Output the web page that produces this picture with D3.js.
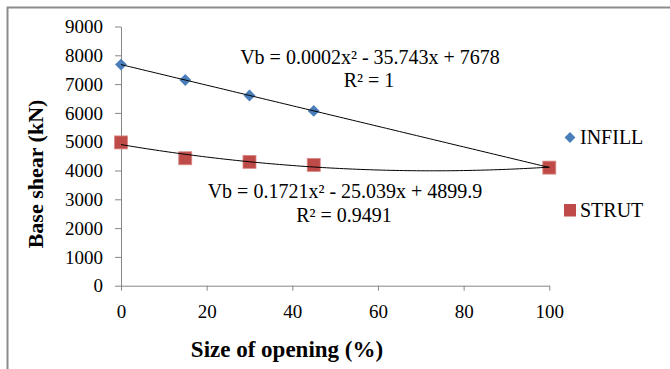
<!DOCTYPE html>
<html>
<head>
<meta charset="utf-8">
<script src="https://cdn.jsdelivr.net/npm/d3@7"></script>
</head>
<body style="margin:0">
<svg id="chart" width="670" height="369"></svg>
<script>
// Opening size (%) and base shear (kN) for the two wall models
const openings = [0, 15, 30, 45, 100];
const infillShear = [7678, 7142, 6606, 6070, 4105];
const strutShear = [4975, 4425, 4300, 4195, 4100];

// Second-order trendline coefficients [a, b, c] for Vb = a·x² + b·x + c
const infillFit = [0.0002, -35.743, 7678];
const strutFit = [0.1721, -25.039, 4899.9];

const xTicks = [0, 20, 40, 60, 80, 100];
const yTicks = [0, 1000, 2000, 3000, 4000, 5000, 6000, 7000, 8000, 9000];

const SERIF = '"Liberation Serif"';
const svg = d3.select("#chart");

// Outer frame (left and top edges visible)
svg.append("path")
  .attr("d", "M7.5,369 V7.5 H670")
  .attr("fill", "none")
  .attr("stroke", "#8c8c8c")
  .attr("stroke-width", 2);

const x = d3.scaleLinear().domain([0, 100]).range([121, 549.3]);
const y = d3.scaleLinear().domain([0, 9000]).range([285.7, 26.5]);

const axisColor = "#868686";

// Y axis
const yAxis = svg.append("g")
  .attr("transform", `translate(${x(0)},0)`)
  .call(d3.axisLeft(y).tickValues(yTicks).tickFormat(d3.format("d"))
    .tickSize(6).tickSizeOuter(0).tickPadding(12));
// X axis
const xAxis = svg.append("g")
  .attr("transform", `translate(0,${y(0)})`)
  .call(d3.axisBottom(x).tickValues(xTicks).tickFormat(d3.format("d"))
    .tickSize(5).tickSizeOuter(0).tickPadding(12));

[yAxis, xAxis].forEach(g => {
  g.attr("font-family", null).attr("font-size", null);
  g.select(".domain").attr("stroke", axisColor);
  g.selectAll(".tick line").attr("stroke", axisColor);
  g.selectAll(".tick text")
    .attr("fill", "#000")
    .style("font-family", SERIF)
    .style("font-size", "19px");
});
yAxis.selectAll(".tick text").attr("dy", "0.33em");
xAxis.selectAll(".tick text").attr("dy", "0.8em");

// Axis titles
svg.append("text")
  .attr("transform", "translate(43,174) rotate(-90)")
  .attr("text-anchor", "middle")
  .style("font-family", SERIF)
  .style("font-weight", "bold")
  .style("font-size", "22px")
  .text("Base shear (kN)");
svg.append("text")
  .attr("x", 287)
  .attr("y", 357)
  .attr("text-anchor", "middle")
  .style("font-family", SERIF)
  .style("font-weight", "bold")
  .style("font-size", "23px")
  .text("Size of opening (%)");

// Markers
const blue = "#4a7ebb";
const red = "#be4b48";
const diamond = d3.symbol().type(d3.symbolDiamond2).size(90);

svg.append("g").selectAll("path")
  .data(openings.map((o, i) => [o, infillShear[i]]))
  .join("path")
  .attr("d", diamond)
  .attr("transform", d => `translate(${x(d[0])},${y(d[1])})`)
  .attr("fill", blue);

const sq = 13;
svg.append("g").selectAll("rect")
  .data(openings.map((o, i) => [o, strutShear[i]]))
  .join("rect")
  .attr("x", d => x(d[0]) - sq / 2)
  .attr("y", d => y(d[1]) - sq / 2)
  .attr("width", sq)
  .attr("height", sq)
  .attr("fill", red)
  .attr("stroke", "#d98a88")
  .attr("stroke-width", 0.8);

// Trendlines
const poly = c => v => c[0] * v * v + c[1] * v + c[2];
const samples = d3.range(0, 100.01, 1);
const line = d3.line().x(d => x(d[0])).y(d => y(d[1]));
[infillFit, strutFit].forEach(c => {
  const f = poly(c);
  svg.append("path")
    .datum(samples.map(v => [v, f(v)]))
    .attr("d", line)
    .attr("fill", "none")
    .attr("stroke", "#000")
    .attr("stroke-width", 1);
});

// Trendline equations
const labels = [
  {x: 370, y: 64, text: "Vb = 0.0002x² - 35.743x + 7678"},
  {x: 369, y: 86.7, text: "R² = 1"},
  {x: 345, y: 198.3, text: "Vb = 0.1721x² - 25.039x + 4899.9"},
  {x: 344, y: 221.7, text: "R² = 0.9491"}
];
svg.append("g").selectAll("text")
  .data(labels)
  .join("text")
  .attr("x", d => d.x)
  .attr("y", d => d.y)
  .attr("text-anchor", "middle")
  .style("font-family", SERIF)
  .style("font-size", "20px")
  .text(d => d.text);

// Legend
const legend = svg.append("g");
legend.append("path")
  .attr("d", d3.symbol().type(d3.symbolDiamond2).size(75))
  .attr("transform", "translate(570,137.5)")
  .attr("fill", blue);
legend.append("text").attr("x", 580).attr("y", 144)
  .style("font-family", SERIF).style("font-size", "20px").text("INFILL");
legend.append("rect")
  .attr("x", 564).attr("y", 204).attr("width", 12).attr("height", 12.5)
  .attr("fill", red);
legend.append("text").attr("x", 580).attr("y", 216.7)
  .style("font-family", SERIF).style("font-size", "20px").text("STRUT");
</script>
</body>
</html>
